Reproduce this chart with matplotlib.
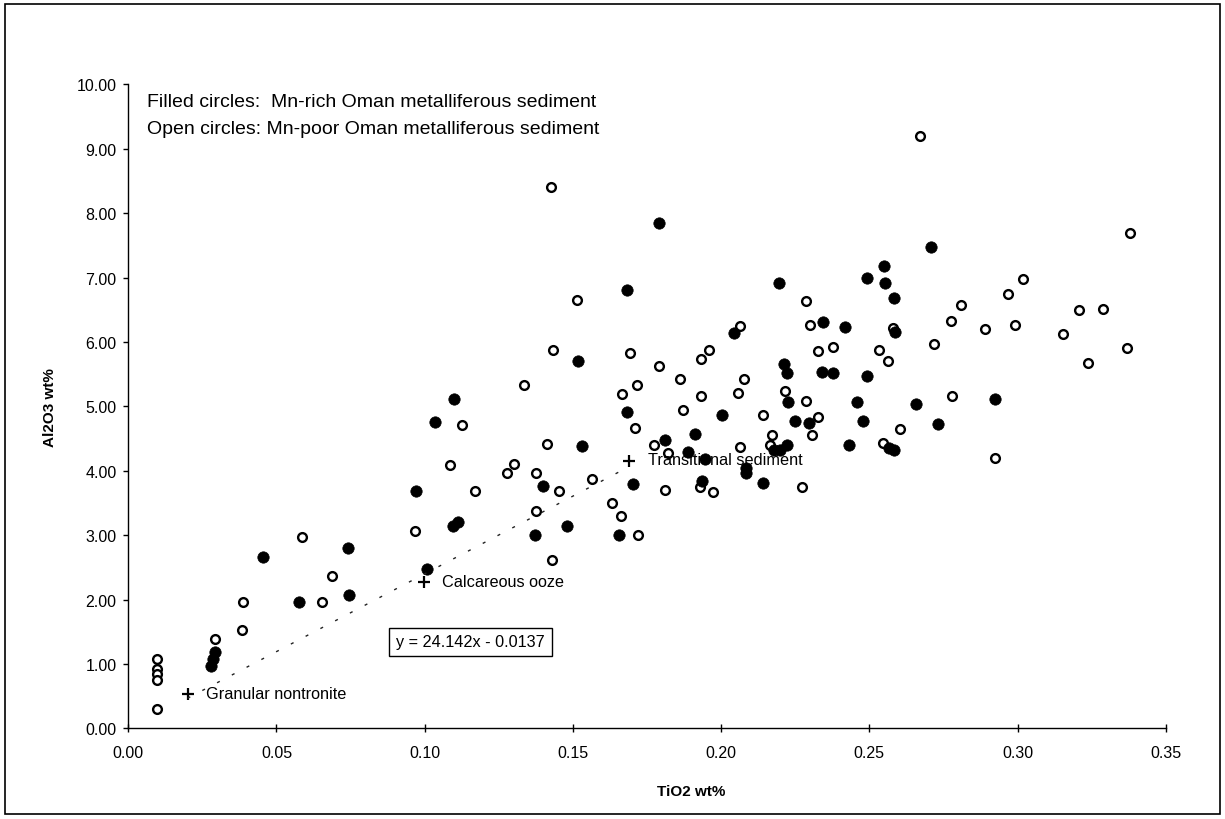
import numpy as np
import matplotlib
matplotlib.use('Agg')
import matplotlib.pyplot as plt
from matplotlib.patches import Rectangle

plt.rcParams['font.family'] = ['Liberation Sans', 'DejaVu Sans']

# Mn-rich Oman metalliferous sediment (filled circles)
rich_tio2 = [0.0278, 0.0285, 0.0293, 0.0456, 0.0577, 0.0742, 0.0746, 0.0972, 0.1007, 0.1097,
             0.1113, 0.1035, 0.1100, 0.1373, 0.1400, 0.1481, 0.1530, 0.1516, 0.1655, 0.1681,
             0.1681, 0.1704, 0.1790, 0.1810, 0.1890, 0.1911, 0.1946, 0.1934, 0.2002, 0.2045,
             0.2085, 0.2085, 0.2142, 0.2180, 0.2200, 0.2222, 0.2196, 0.2212, 0.2223, 0.2225,
             0.2250, 0.2298, 0.2343, 0.2340, 0.2379, 0.2417, 0.2430, 0.2457, 0.2478, 0.2493,
             0.2493, 0.2551, 0.2553, 0.2585, 0.2588, 0.2567, 0.2585, 0.2658, 0.2707, 0.2733,
             0.2925]
rich_al2o3 = [0.97, 1.08, 1.18, 2.66, 1.96, 2.81, 2.07, 3.68, 2.47, 3.15,
              3.20, 4.76, 5.11, 3.00, 3.77, 3.14, 4.39, 5.70, 3.00, 4.92,
              6.81, 3.79, 7.85, 4.48, 4.30, 4.57, 4.18, 3.85, 4.87, 6.14,
              4.05, 3.97, 3.81, 4.33, 4.33, 4.40, 6.92, 5.66, 5.52, 5.07,
              4.77, 4.75, 6.31, 5.54, 5.52, 6.24, 4.40, 5.07, 4.77, 5.48,
              6.99, 7.18, 6.92, 6.68, 6.15, 4.35, 4.32, 5.04, 7.47, 4.72,
              5.12]

# Mn-poor Oman metalliferous sediment (open circles)
poor_tio2 = [0.0096, 0.0096, 0.0096, 0.0096, 0.0096, 0.0293, 0.0388, 0.0383, 0.0585, 0.0655,
             0.0688, 0.0967, 0.1085, 0.1125, 0.1170, 0.1279, 0.1301, 0.1335, 0.1375, 0.1374,
             0.1412, 0.1428, 0.1425, 0.1432, 0.1453, 0.1513, 0.1563, 0.1631, 0.1661, 0.1667,
             0.1693, 0.1717, 0.1710, 0.1720, 0.1774, 0.1792, 0.1810, 0.1822, 0.1861, 0.1873,
             0.1931, 0.1932, 0.1960, 0.1930, 0.1972, 0.2058, 0.2064, 0.2064, 0.2077, 0.2140,
             0.2165, 0.2171, 0.2216, 0.2272, 0.2286, 0.2286, 0.2300, 0.2306, 0.2328, 0.2326,
             0.2378, 0.2534, 0.2545, 0.2564, 0.2579, 0.2605, 0.2670, 0.2717, 0.2775, 0.2778,
             0.2809, 0.2889, 0.2925, 0.2969, 0.2992, 0.3020, 0.3154, 0.3209, 0.3238, 0.3290,
             0.3368, 0.3380]
poor_al2o3 = [1.08, 0.92, 0.84, 0.76, 0.30, 1.39, 1.96, 1.53, 2.98, 1.96,
              2.36, 3.06, 4.09, 4.71, 3.68, 3.97, 4.10, 5.33, 3.97, 3.37,
              4.41, 2.61, 8.41, 5.88, 3.69, 6.66, 3.87, 3.50, 3.30, 5.19,
              5.83, 5.33, 4.66, 3.00, 4.40, 5.63, 3.71, 4.27, 5.43, 4.94,
              5.73, 5.17, 5.88, 3.75, 3.67, 5.21, 6.25, 4.37, 5.43, 4.87,
              4.40, 4.56, 5.24, 3.75, 6.63, 5.09, 6.27, 4.56, 4.84, 5.86,
              5.92, 5.87, 4.43, 5.70, 6.22, 4.65, 9.20, 5.97, 6.32, 5.17,
              6.58, 6.21, 4.20, 6.75, 6.27, 6.98, 6.12, 6.50, 5.68, 6.51,
              5.90, 7.69]

# reference sediments
ref_names = ['Granular nontronite', 'Calcareous ooze', 'Transitional sediment']
ref_tio2 = [0.020, 0.0998, 0.169]
ref_al2o3 = [0.54, 2.28, 4.16]

# linear fit through the reference sediments
slope = 24.142
intercept = -0.0137

x_ticks = [0.00, 0.05, 0.10, 0.15, 0.20, 0.25, 0.30, 0.35]
y_ticks = [0, 1, 2, 3, 4, 5, 6, 7, 8, 9, 10]

fig = plt.figure(figsize=(12.25, 8.2), dpi=100)
ax = fig.add_axes([0.1047, 0.1104, 0.8469, 0.7854])

ax.plot(poor_tio2, poor_al2o3, 'o', ls='none', ms=6.3, mfc='white', mec='black', mew=1.7)
ax.plot(rich_tio2, rich_al2o3, 'o', ls='none', ms=8.2, mfc='black', mec='black', mew=0.5)

ax.plot(ref_tio2, ref_al2o3, '+', ls='none', ms=8.5, mew=1.6, color='black')

fit_x = np.array([ref_tio2[0], ref_tio2[-1]])
fit_y = slope * fit_x + intercept
ax.plot(fit_x, fit_y, color='#222222', lw=1.0, dashes=(2.2, 9.8))

font_note = 11.7
ax.text(0.0262, ref_al2o3[0], ref_names[0], fontsize=font_note, va='center', ha='left')
ax.text(0.1059, ref_al2o3[1], ref_names[1], fontsize=font_note, va='center', ha='left')
ax.text(0.1754, ref_al2o3[2] + 0.01, ref_names[2], fontsize=font_note, va='center', ha='left')

ax.text(0.1155, 1.343, 'y = 24.142x - 0.0137', fontsize=11.7, ha='center', va='center',
        bbox=dict(boxstyle='square,pad=0.42', fc='white', ec='black', lw=1.0))

ax.text(0.0062, 9.73, 'Filled circles:  Mn-rich Oman metalliferous sediment',
        fontsize=14, ha='left', va='center')
ax.text(0.0062, 9.32, 'Open circles: Mn-poor Oman metalliferous sediment',
        fontsize=14, ha='left', va='center')

ax.set_xlim(0, 0.35)
ax.set_ylim(0, 10)
ax.set_xticks(x_ticks)
ax.set_yticks(y_ticks)
ax.set_xticklabels([f'{v:.2f}' for v in x_ticks], fontsize=11.5)
ax.set_yticklabels([f'{v:.2f}' for v in y_ticks], fontsize=11.5)
ax.tick_params(axis='x', direction='inout', length=6, width=1, pad=9)
ax.tick_params(axis='y', direction='out', length=3.5, width=1, pad=5)

ax.spines['top'].set_visible(False)
ax.spines['right'].set_visible(False)
ax.spines['left'].set_linewidth(1)
ax.spines['bottom'].set_linewidth(1)

ax.set_xlabel('TiO2 wt%', fontsize=11, fontweight='bold', va='center')
ax.xaxis.set_label_coords(0.543, -0.0964)
ax.set_ylabel('Al2O3 wt%', fontsize=11, fontweight='bold', va='center', ha='center')
ax.yaxis.set_label_coords(-0.0755, 0.5)

fig.patches.append(Rectangle((0.004, 0.006), 0.992, 0.988, transform=fig.transFigure,
                             fill=False, ec='black', lw=1.2))

fig.savefig('out.png', dpi=100)
